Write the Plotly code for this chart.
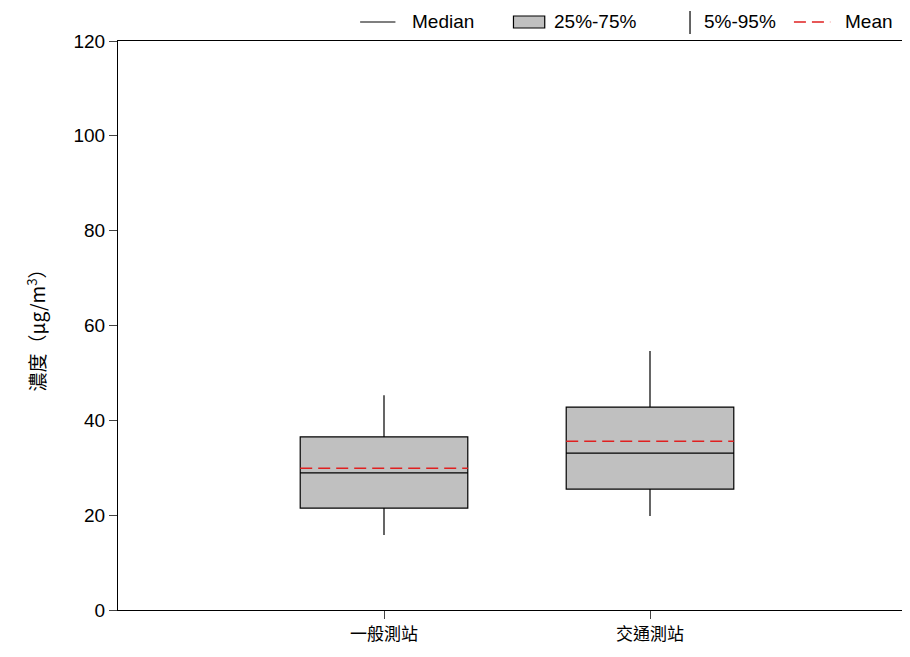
import plotly.graph_objects as go

categories = ["一般測站", "交通測站"]
xpos = [1, 2]
q1 = [21.5, 25.5]
median = [28.9, 33.1]
q3 = [36.5, 42.8]
p5 = [15.8, 19.8]
p95 = [45.3, 54.6]
mean = [29.9, 35.6]
yticks = [0, 20, 40, 60, 80, 100, 120]

W, H = 910, 657
L, R, T, B = 110, 2, 33, 55
PL, PW = 117, 791
PT, PH = 40, 569
def px(x): return (x - PL) / PW
def py(y): return (PT + PH - y) / PH

fig = go.Figure()
fig.add_trace(go.Box(x=xpos, q1=q1, median=median, q3=q3, lowerfence=p5, upperfence=p95,
                     fillcolor="#c0c0c0", line=dict(color="black", width=1.2),
                     width=0.63, whiskerwidth=0, showlegend=False, hoverinfo="skip"))
hw = 0.315
for x, m in zip(xpos, mean):
    fig.add_trace(go.Scatter(x=[x - hw, x + hw], y=[m, m], mode="lines",
                             line=dict(color="#e02020", width=1.6, dash="12px,6px"), showlegend=False))

shapes = [
    dict(type="line", xref="paper", yref="paper", x0=px(357), x1=px(392), y0=py(21), y1=py(21), line=dict(color="black", width=1.2)),
    dict(type="rect", xref="paper", yref="paper", x0=px(509), x1=px(540), y0=py(27), y1=py(15), fillcolor="#c0c0c0", line=dict(color="black", width=1.2)),
    dict(type="line", xref="paper", yref="paper", x0=px(684), x1=px(684), y0=py(10), y1=py(33), line=dict(color="black", width=1.2)),
    dict(type="line", xref="paper", yref="paper", x0=px(787), x1=px(823), y0=py(21), y1=py(21), line=dict(color="#e02020", width=1.6, dash="12px,6px")),
]
ann = []
for t, x in [("Median", 406), ("25%-75%", 547), ("5%-95%", 696), ("Mean", 836)]:
    ann.append(dict(text=t, xref="paper", yref="paper", x=px(x), y=py(20), xanchor="left", yanchor="middle",
                    showarrow=False, font=dict(size=19, color="black", family="Liberation Sans")))

fig.update_layout(
    width=W, height=H, margin=dict(l=L, r=R, t=T, b=B),
    plot_bgcolor="white", paper_bgcolor="white",
    shapes=shapes, annotations=ann,
    xaxis=dict(range=[0, 3], tickvals=xpos, ticktext=categories, showgrid=False, zeroline=False,
               showline=True, mirror=True, linecolor="black", linewidth=1.2, ticks="outside", ticklen=8,
               tickfont=dict(size=17, family="Noto Sans CJK TC", color="black")),
    yaxis=dict(range=[0, 120], tickvals=yticks, showgrid=False, zeroline=False,
               showline=True, mirror=True, linecolor="black", linewidth=1.2, ticks="outside", ticklen=8,
               tickfont=dict(size=19, family="Liberation Sans", color="black"),
               title=dict(text="濃度（μg/m<sup>3</sup>）", standoff=22,
                          font=dict(size=19, family="Noto Sans CJK TC", color="black"))),
)
fig.write_html("out.html")
